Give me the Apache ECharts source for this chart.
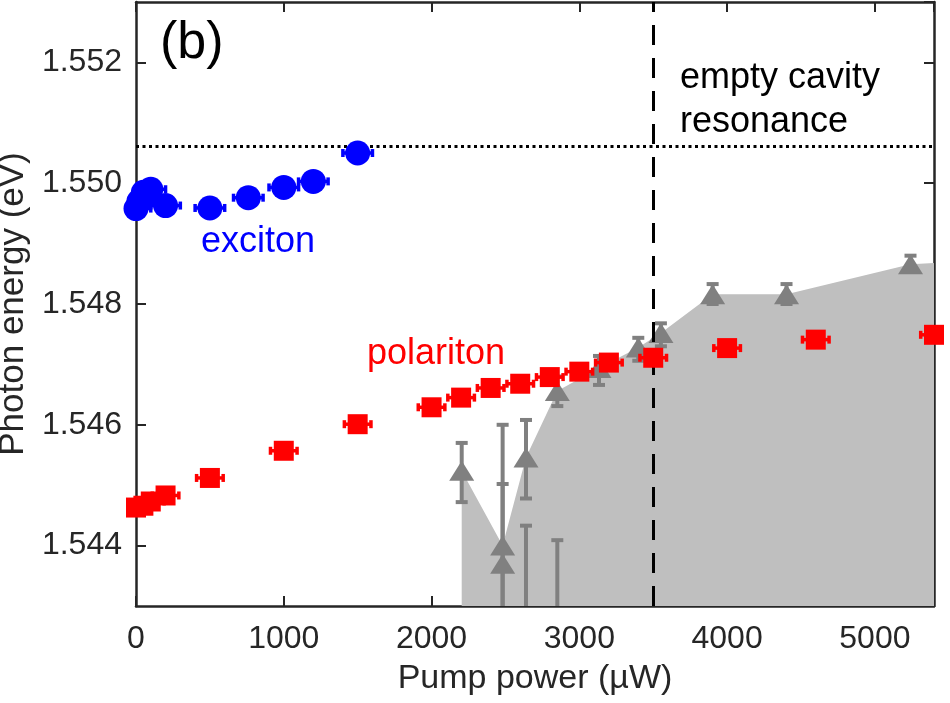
<!DOCTYPE html>
<html>
<head>
<meta charset="utf-8">
<script src="https://cdn.jsdelivr.net/npm/echarts@6/dist/echarts.min.js"></script>
<style>
html, body { margin: 0; padding: 0; background: #fff; }
#main { width: 950px; height: 703px; }
</style>
</head>
<body>
<div id="main"></div>
<script>
// exciton (blue circles)
var excitonPower = [0, 20, 50, 100, 200, 500, 760, 1000, 1200, 1500];
var excitonEnergy = [1.54958, 1.5497, 1.54985, 1.5499, 1.54963, 1.54959, 1.54976, 1.54993, 1.55003, 1.5505];
var excitonErr = [100, 100, 100, 100, 100, 100, 100, 100, 100, 100];

// polariton (red squares)
var polPower = [0, 50, 100, 200, 500, 1000, 1500, 2000, 2200, 2400, 2600, 2800, 3000, 3200, 3500, 4000, 4600, 5400];
var polEnergy = [1.54463, 1.54466, 1.54473, 1.54483, 1.54512, 1.54557, 1.54601, 1.54629, 1.54645, 1.54661,
                 1.54668, 1.54679, 1.54688, 1.54703, 1.54711, 1.54727, 1.54741, 1.54749];
var polErr = [90, 90, 90, 90, 90, 90, 90, 90, 90, 90, 90, 90, 90, 90, 90, 90, 90, 90];

// gain peaks (grey triangles) with vertical error bars
var gainPower = [2204, 2481, 2481, 2639, 2639, 2851, 2851, 3133, 3399, 3552, 3902, 4402, 5241];
var gainEnergy = [1.54524, 1.5440, 1.5437, 1.54546, 1.5425, 1.54656, 1.5425, 1.54694, 1.54728, 1.54752, 1.54816, 1.54816, 1.54866];
var gainLow = [1.54472, 1.542, 1.5423, 1.54478, 1.541, 1.54631, 1.541, 1.54666, 1.54706, 1.5473, 1.548, 1.548, 1.54853];
var gainHigh = [1.5457, 1.546, 1.54502, 1.54608, 1.54433, 1.5468, 1.54409, 1.54714, 1.54744, 1.54768, 1.54833, 1.54833, 1.5488];

// shaded gain region outline
var gainEdgePower = [2204, 2204, 2481, 2639, 2851, 3133, 3399, 3552, 3902, 4402, 5241, 5400];
var gainEdgeEnergy = [1.543, 1.54524, 1.5440, 1.54546, 1.54656, 1.54694, 1.54728, 1.54752, 1.54816, 1.54816, 1.54866, 1.54868];

var cavityEnergy = 1.55062;
var thresholdPower = 3500;

function zip2(a, b) {
    var out = [];
    for (var i = 0; i < a.length; i++) out.push([a[i], b[i]]);
    return out;
}
function zip3(a, b, c) {
    var out = [];
    for (var i = 0; i < a.length; i++) out.push([a[i], b[i], c[i]]);
    return out;
}

// horizontal error bar: [x, y, err]
function hBar(params, api) {
    var x = api.value(0), y = api.value(1), e = api.value(2);
    var a = api.coord([x - e, y]);
    var b = api.coord([x + e, y]);
    var cap = 4;
    var st = { stroke: api.visual('color'), lineWidth: 3.5 };
    return {
        type: 'group',
        children: [
            { type: 'line', shape: { x1: a[0], y1: a[1], x2: b[0], y2: b[1] }, style: st },
            { type: 'line', shape: { x1: a[0], y1: a[1] - cap, x2: a[0], y2: a[1] + cap }, style: st },
            { type: 'line', shape: { x1: b[0], y1: b[1] - cap, x2: b[0], y2: b[1] + cap }, style: st }
        ]
    };
}

// vertical error bar: [x, low, high]
function vBar(params, api) {
    var x = api.value(0);
    var lo = api.coord([x, api.value(1)]);
    var hi = api.coord([x, api.value(2)]);
    var cap = 6;
    var st = { stroke: api.visual('color'), lineWidth: 4 };
    return {
        type: 'group',
        children: [
            { type: 'line', shape: { x1: lo[0], y1: lo[1], x2: hi[0], y2: hi[1] }, style: st },
            { type: 'line', shape: { x1: lo[0] - cap, y1: lo[1], x2: lo[0] + cap, y2: lo[1] }, style: st },
            { type: 'line', shape: { x1: hi[0] - cap, y1: hi[1], x2: hi[0] + cap, y2: hi[1] }, style: st }
        ]
    };
}

var axisColor = '#262626';
var font = '"Liberation Sans", Arial, Helvetica, sans-serif';
var lineOpt = { onZero: false, lineStyle: { color: axisColor, width: 2.5 } };
var tickOpt = { inside: true, length: 10, lineStyle: { color: axisColor, width: 2 } };

var myChart = echarts.init(document.getElementById('main'));

myChart.setOption({
    animation: false,
    textStyle: { fontFamily: font },
    grid: { left: 136, right: 16, top: 2, bottom: 97, outerBoundsMode: 'none', containLabel: false },
    xAxis: [{
        type: 'value',
        min: 0,
        max: 5400,
        interval: 1000,
        position: 'bottom',
        name: 'Pump power (µW)',
        nameLocation: 'middle',
        nameGap: 56,
        nameTextStyle: { fontSize: 34, color: axisColor, fontFamily: font },
        axisLine: lineOpt,
        axisTick: tickOpt,
        axisLabel: {
            fontSize: 32, color: axisColor, margin: 17, showMaxLabel: false, fontFamily: font,
            formatter: function (v) { return String(v); }
        },
        splitLine: { show: false }
    }, {
        type: 'value',
        min: 0,
        max: 5400,
        interval: 1000,
        position: 'top',
        axisLine: lineOpt,
        axisTick: tickOpt,
        axisLabel: { show: false },
        splitLine: { show: false }
    }],
    yAxis: [{
        type: 'value',
        min: 1.543,
        max: 1.553,
        splitNumber: 5,
        position: 'left',
        name: 'Photon energy (eV)',
        nameLocation: 'middle',
        nameGap: 102,
        nameTextStyle: { fontSize: 35, color: axisColor, fontFamily: font },
        axisLine: lineOpt,
        axisTick: tickOpt,
        axisLabel: {
            fontSize: 32, color: axisColor, margin: 14, fontFamily: font,
            showMinLabel: false, showMaxLabel: false,
            formatter: function (v) { return v.toFixed(3); }
        },
        splitLine: { show: false }
    }, {
        type: 'value',
        min: 1.543,
        max: 1.553,
        splitNumber: 5,
        position: 'right',
        axisLine: lineOpt,
        axisTick: tickOpt,
        axisLabel: { show: false },
        splitLine: { show: false }
    }],
    graphic: [
        { type: 'text', left: 160, top: 18, style: { text: '(b)', fontSize: 52, fill: '#000', fontFamily: font } },
        { type: 'text', left: 201, top: 224, style: { text: 'exciton', fontSize: 36, fill: '#0000ff', fontFamily: font } },
        { type: 'text', left: 367, top: 336, style: { text: 'polariton', fontSize: 36, fill: '#ff0000', fontFamily: font } },
        { type: 'text', left: 680, top: 56, style: { text: 'empty cavity\nresonance', fontSize: 36, lineHeight: 44, fill: '#000', fontFamily: font } },
        { type: 'text', left: 733, top: 450, style: { text: 'gain', fontSize: 36, fontWeight: 'bold', fill: '#ffffff', fontFamily: font } }
    ],
    series: [{
        name: 'gain region',
        type: 'line',
        data: zip2(gainEdgePower, gainEdgeEnergy),
        showSymbol: false,
        symbol: 'none',
        lineStyle: { width: 0, color: '#bfbfbf' },
        areaStyle: { color: '#bfbfbf', opacity: 1, origin: 'start' },
        silent: true,
        z: 1,
        markLine: {
            silent: true,
            symbol: 'none',
            precision: 6,
            label: { show: false },
            data: [
                { yAxis: cavityEnergy, lineStyle: { color: '#000', width: 3, type: [3, 3.5] } },
                { xAxis: thresholdPower, lineStyle: { color: '#000', width: 3, type: [20, 13] } }
            ]
        }
    }, {
        name: 'gain err',
        type: 'custom',
        renderItem: vBar,
        data: zip3(gainPower, gainLow, gainHigh),
        itemStyle: { color: '#808080' },
        clip: true,
        z: 3
    }, {
        name: 'gain',
        type: 'scatter',
        symbol: 'triangle',
        symbolSize: [25, 20],
        data: zip2(gainPower, gainEnergy),
        itemStyle: { color: '#808080', opacity: 1 },
        clip: true,
        z: 4
    }, {
        name: 'exciton err',
        type: 'custom',
        renderItem: hBar,
        data: zip3(excitonPower, excitonEnergy, excitonErr),
        itemStyle: { color: '#0000ff' },
        clip: true,
        z: 5
    }, {
        name: 'exciton',
        type: 'scatter',
        symbol: 'circle',
        symbolSize: 25,
        data: zip2(excitonPower, excitonEnergy),
        itemStyle: { color: '#0000ff', opacity: 1 },
        z: 6
    }, {
        name: 'polariton err',
        type: 'custom',
        renderItem: hBar,
        data: zip3(polPower, polEnergy, polErr),
        itemStyle: { color: '#ff0000' },
        clip: true,
        z: 7
    }, {
        name: 'polariton',
        type: 'scatter',
        symbol: 'rect',
        symbolSize: 20,
        data: zip2(polPower, polEnergy),
        itemStyle: { color: '#ff0000', opacity: 1 },
        z: 8
    }]
});
</script>
</body>
</html>
